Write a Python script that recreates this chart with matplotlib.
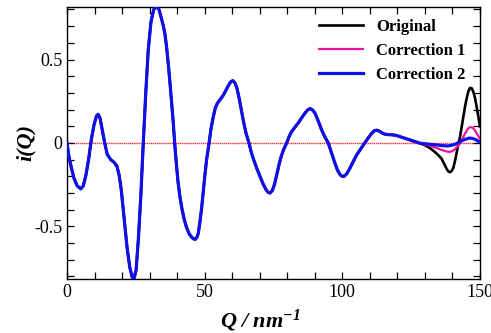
import numpy as np
import matplotlib
matplotlib.use("Agg")
import matplotlib.pyplot as plt
from matplotlib.ticker import MultipleLocator, FixedLocator

plt.rcParams['font.family'] = ['Liberation Serif', 'DejaVu Serif']
plt.rcParams['axes.unicode_minus'] = False
plt.rcParams['mathtext.fontset'] = 'custom'
plt.rcParams['mathtext.rm'] = 'Liberation Serif'
plt.rcParams['mathtext.it'] = 'Liberation Serif:italic'
plt.rcParams['mathtext.bf'] = 'Liberation Serif:bold'
plt.rcParams['mathtext.bfit'] = 'Liberation Serif:italic:bold'

# shared part of all three curves
q_common = [0, 0.7, 1.6, 2.5, 3.7, 5.0, 5.9, 6.9, 7.9, 8.8, 9.8, 10.7, 11.3, 12.0, 12.8,
            13.7, 14.6, 15.9, 17.1, 18.1, 18.9, 19.7, 20.3, 20.8, 21.8, 22.8, 23.7, 24.3,
            25.1, 25.9, 26.8, 27.7, 28.6, 29.5, 30.5, 31.5, 32.4, 33.4, 34.4, 35.0, 35.6,
            36.2, 36.8, 37.4, 38.0, 38.6, 39.1, 39.7, 40.3, 41.0, 41.7, 42.6, 43.5, 44.4,
            45.3, 46.0, 46.6, 47.2, 47.7, 48.3, 48.9, 49.5, 50.1, 50.7, 51.6, 52.3, 53.1,
            53.8, 54.5, 55.5, 56.8, 58.0, 59.0, 59.7, 60.3, 61.0, 61.7, 62.5, 63.3, 64.1,
            65.0, 66.1, 67.0, 67.8, 69.0, 70.1, 71.2, 72.3, 73.0, 73.7, 74.6, 75.4, 76.2,
            77.0, 77.8, 78.8, 79.8, 80.7, 81.6, 82.8, 84.0, 85.2, 86.4, 87.4, 88.3, 89.2,
            90.1, 91.3, 92.5, 93.7, 94.9, 96.1, 97.3, 98.3, 99.2, 100.0, 100.6, 101.6,
            102.8, 104.0, 105.2, 106.7, 108.2, 109.5, 110.7, 111.6, 112.4, 113.2, 114.2,
            115.2, 116.5, 118.0, 119.5, 121.0, 122.6, 124.6, 126.0, 127.6]
i_common = [0, -0.082, -0.15, -0.21, -0.257, -0.275, -0.257, -0.19, -0.092, 0.018, 0.108,
            0.162, 0.172, 0.148, 0.078, 0, -0.068, -0.10, -0.116, -0.138, -0.19, -0.28,
            -0.38, -0.47, -0.625, -0.745, -0.805, -0.816, -0.76, -0.58, -0.32, 0, 0.298,
            0.557, 0.726, 0.80, 0.818, 0.80, 0.74, 0.70, 0.65, 0.57, 0.47, 0.36, 0.24,
            0.12, 0, -0.12, -0.23, -0.32, -0.39, -0.46, -0.51, -0.545, -0.565, -0.575,
            -0.577, -0.565, -0.54, -0.47, -0.39, -0.29, -0.19, -0.10, 0, 0.085, 0.155,
            0.205, 0.235, 0.258, 0.287, 0.325, 0.355, 0.37, 0.373, 0.36, 0.33, 0.27, 0.20,
            0.13, 0.06, 0, -0.06, -0.10, -0.155, -0.20, -0.245, -0.28, -0.295, -0.30,
            -0.285, -0.245, -0.19, -0.13, -0.08, -0.035, 0, 0.04, 0.068, 0.095, 0.12,
            0.15, 0.178, 0.198, 0.206, 0.198, 0.178, 0.13, 0.078, 0.035, 0, -0.06, -0.12,
            -0.165, -0.19, -0.20, -0.20, -0.185, -0.15, -0.11, -0.072, -0.035, 0.002,
            0.032, 0.058, 0.073, 0.077, 0.073, 0.063, 0.054, 0.050, 0.049, 0.046, 0.038,
            0.029, 0.018, 0.010, 0.002]

# high-Q tails where the three curves split
q_tail_orig = [128.5, 129.6, 130.7, 132.2, 133.7, 135.0, 136.1, 137.0, 137.9, 138.5,
               139.1, 139.7, 140.3, 140.9, 141.5, 142.1, 142.8, 143.4, 144.0, 144.6,
               145.2, 145.8, 146.4, 147.0, 147.6, 148.2, 148.8, 149.4, 150.0]
i_original = [-0.004, -0.01, -0.02, -0.035, -0.055, -0.075, -0.095, -0.125, -0.155,
              -0.17, -0.175, -0.168, -0.15, -0.11, -0.062, -0.01, 0.04, 0.10, 0.16, 0.22,
              0.27, 0.31, 0.33, 0.328, 0.307, 0.27, 0.217, 0.16, 0.10]
q_tail_c1 = [128.5, 129.6, 130.7, 132.5, 134.3, 135.8, 137.3, 138.2, 139.1, 140.0,
             140.9, 141.8, 142.8, 143.7, 144.6, 145.4, 146.1, 146.8, 147.6, 148.2,
             148.8, 149.4, 150.0]
i_corr1 = [-0.003, -0.007, -0.012, -0.02, -0.03, -0.04, -0.048, -0.052, -0.053, -0.048,
           -0.038, -0.022, -0.002, 0.028, 0.058, 0.08, 0.093, 0.095, 0.088, 0.075, 0.058,
           0.04, 0.025]
q_tail_c2 = [128.5, 129.6, 130.7, 132.5, 134.3, 136.1, 137.9, 139.4, 140.9, 142.1,
             143.4, 144.8, 146.1, 147.2, 148.2, 149.1, 150.0]
i_corr2 = [-0.002, -0.004, -0.006, -0.009, -0.012, -0.015, -0.018, -0.015, -0.008,
           0.002, 0.014, 0.023, 0.029, 0.028, 0.022, 0.014, 0.006]

labels = ["Original", "Correction 1", "Correction 2"]

fig = plt.figure(figsize=(4.91, 3.33), dpi=100)
ax = fig.add_axes([0.1365, 0.1622, 0.841, 0.8168])

ax.axhline(0, color='#ff2a2a', lw=1.0, ls=(0, (1, 0.5)), zorder=1)

ax.plot(q_common + q_tail_orig, i_common + i_original, color='black', lw=1.9,
        label=labels[0], zorder=2, solid_joinstyle='round')
ax.plot(q_common + q_tail_c1, i_common + i_corr1, color='#f0109f', lw=1.6,
        label=labels[1], zorder=3, solid_joinstyle='round')
ax.plot(q_common + q_tail_c2, i_common + i_corr2, color='#1010e8', lw=2.3,
        label=labels[2], zorder=4, solid_joinstyle='round')

ax.set_xlim(0, 150)
ax.set_ylim(-0.815, 0.815)
ax.xaxis.set_major_locator(FixedLocator([0, 50, 100, 150]))
ax.xaxis.set_minor_locator(MultipleLocator(10))
ax.yaxis.set_major_locator(FixedLocator([-0.5, 0, 0.5]))
ax.yaxis.set_minor_locator(MultipleLocator(0.1))
ax.set_yticklabels(["-0.5", "0", "0.5"])
ax.tick_params(which='both', direction='in', top=True, right=True, labelsize=13, width=0.9)
ax.tick_params(which='major', length=5)
ax.tick_params(which='minor', length=5)
for s in ax.spines.values():
    s.set_linewidth(1.0)

ax.set_xlabel(r"$\mathbfit{Q\ /\ nm^{-1}}$", fontsize=16)
ax.xaxis.set_label_coords(0.467, -0.105)
ax.set_ylabel("i(Q)", fontsize=16, fontweight='bold', fontstyle='italic', labelpad=-1)

leg = ax.legend(loc='upper right', frameon=False, handlelength=2.6, labelspacing=0.5,
                borderaxespad=0.3, bbox_to_anchor=(0.993, 1.0),
                prop={'weight': 'bold', 'size': 12})

fig.savefig("out.png", dpi=100)
